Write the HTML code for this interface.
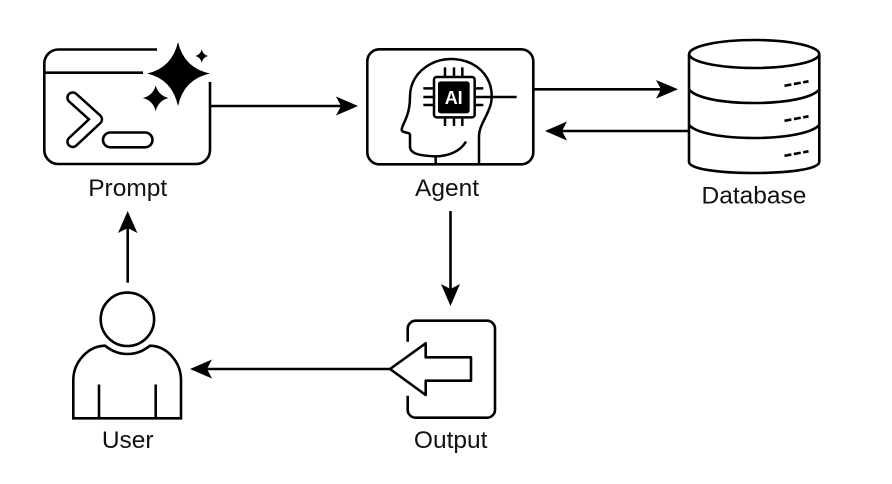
<!DOCTYPE html>
<html>
<head>
<meta charset="utf-8">
<style>
html,body{margin:0;padding:0;background:#fff;width:892px;height:484px;overflow:hidden}
svg{display:block}
text{font-family:"Liberation Sans",sans-serif;font-size:24.5px;fill:#111;text-anchor:middle}
</style>
</head>
<body>
<svg width="892" height="484" viewBox="0 0 892 484" xmlns="http://www.w3.org/2000/svg">
<rect width="892" height="484" fill="#fff"/>
<g fill="none" stroke="#000" stroke-width="2.6">
  <!-- Prompt -->
  <path d="M157 49.5H58A14 14 0 0 0 44.3 63.5V150A14 14 0 0 0 58.300 164H196A14 14 0 0 0 210 150V82"/>
  <path d="M44.300 72.700H143"/>
  <path d="M72.700 97.700L96.700 119.300L72.700 141.700" stroke-width="13" stroke-linejoin="round" stroke-linecap="round"/>
  <path d="M72.700 97.700L96.700 119.300L72.700 141.700" stroke="#fff" stroke-width="8" stroke-linejoin="round" stroke-linecap="round"/>
  <rect x="103" y="132.500" width="49.500" height="14.800" rx="7.400"/>
  <!-- Agent -->
  <rect x="367.300" y="49.300" width="166" height="115" rx="12"/>
  <g transform="translate(355 35) scale(.33333)" stroke-width="7.500">
    <path d="M372 388V305C372 270 398 245 408 205C416 160 400 120 365 95C330 70 270 62 225 88C185 110 165 145 165 185C165 205 163 225 155 245C150 260 140 275 140 285C142 295 165 290 165 300V335C165 355 190 362 240 364C280 364 315 350 333 320"/>
    <path d="M242 364V388"/>
    <rect x="235" y="125" width="125" height="123" rx="10" fill="#fff" stroke="none"/>
    <rect x="237" y="126" width="122" height="121" rx="8"/>
    <rect x="249" y="139" width="95" height="96" rx="8" fill="#000" stroke="none"/>
    <path d="M270 97V126M297 97V126M322 97V126M270 247V273M297 247V273M322 247V273M205 160H237M205 186H237M205 210H237M359 160H385M359 210H385M359 186H485"/>
  </g>
  <!-- Database -->
  <path d="M689 54V161.700C689 169 718 173 754 173C790 173 819.300 169 819.300 161.700V54"/>
  <ellipse cx="754.200" cy="54" rx="65" ry="14" fill="#fff"/>
  <path d="M689 89.500C696 98 722 103 754 103C786 103 812 98 819.300 89.500"/>
  <path d="M689 125C696 133 722 138 754 138C786 138 812 133 819.300 125"/>
  <path d="M784.500 85.800L808.500 81.300M784.500 120.800L808.500 116.300M784.500 155.800L808.500 151.300" stroke-dasharray="7 2.500"/>
  <!-- User -->
  <circle cx="127.400" cy="319.300" r="26.700"/>
  <path d="M73.300 418.300V380C73.300 362 88 346 105 345.700C112 351 118 354 127.500 354C137 354 143 351 150 345.700C167 346 181 362 181 380V418.300Z"/>
  <path d="M99 384.500V418M155.700 384.500V418"/>
  <!-- Output -->
  <path d="M407.700 341.700V328.700A8 8 0 0 1 415.700 320.700H487A8 8 0 0 1 495 328.700V409.700A8 8 0 0 1 487 417.700H415.700A8 8 0 0 1 407.700 409.700V395.700"/>
  <path d="M390 369L425.700 343.300V357.300H471V380.700H425.700V395L390 369Z" stroke-linejoin="round"/>
  <!-- Connectors -->
  <path d="M210 106H342"/>
  <path d="M533.300 89.300H662"/>
  <path d="M688 131H561"/>
  <path d="M450.500 211V289"/>
  <path d="M127.700 282.700V226"/>
  <path d="M390 369H206"/>
</g>
<g fill="#000">
  <path d="M178 42Q184 68 210 73.500Q184 79 178 106Q172 79 147 73.500Q172 68 178 42Z"/>
  <path d="M155.700 85.500Q158.500 95.500 168.500 98Q158.500 100.500 155.700 111Q152.900 100.500 142.800 98Q152.900 95.500 155.700 85.500Z"/>
  <path d="M201.700 49.500Q203 54.700 208 56Q203 57.300 201.700 62.500Q200.400 57.300 195.400 56Q200.400 54.700 201.700 49.500Z"/>
  <path d="M358 106L336 96.500L341 106L336 115.500Z"/>
  <path d="M678 89.300L656 80L661 89.300L656 98.600Z"/>
  <path d="M545 131L567 121.500L562 131L567 140.500Z"/>
  <path d="M450.500 306L441 284L450.500 289L460 284Z"/>
  <path d="M127.700 211L118 233L127.700 228L137.400 233Z"/>
  <path d="M190 369L212 359.500L207 369L212 378.500Z"/>
</g>
<text x="453.700" y="104" style="font-weight:700;font-size:18px;fill:#fff">AI</text>
<text x="127.700" y="196">Prompt</text>
<text x="447" y="196">Agent</text>
<text x="754" y="203.500">Database</text>
<text x="127.700" y="448">User</text>
<text x="450.700" y="448">Output</text>
</svg>
</body>
</html>
